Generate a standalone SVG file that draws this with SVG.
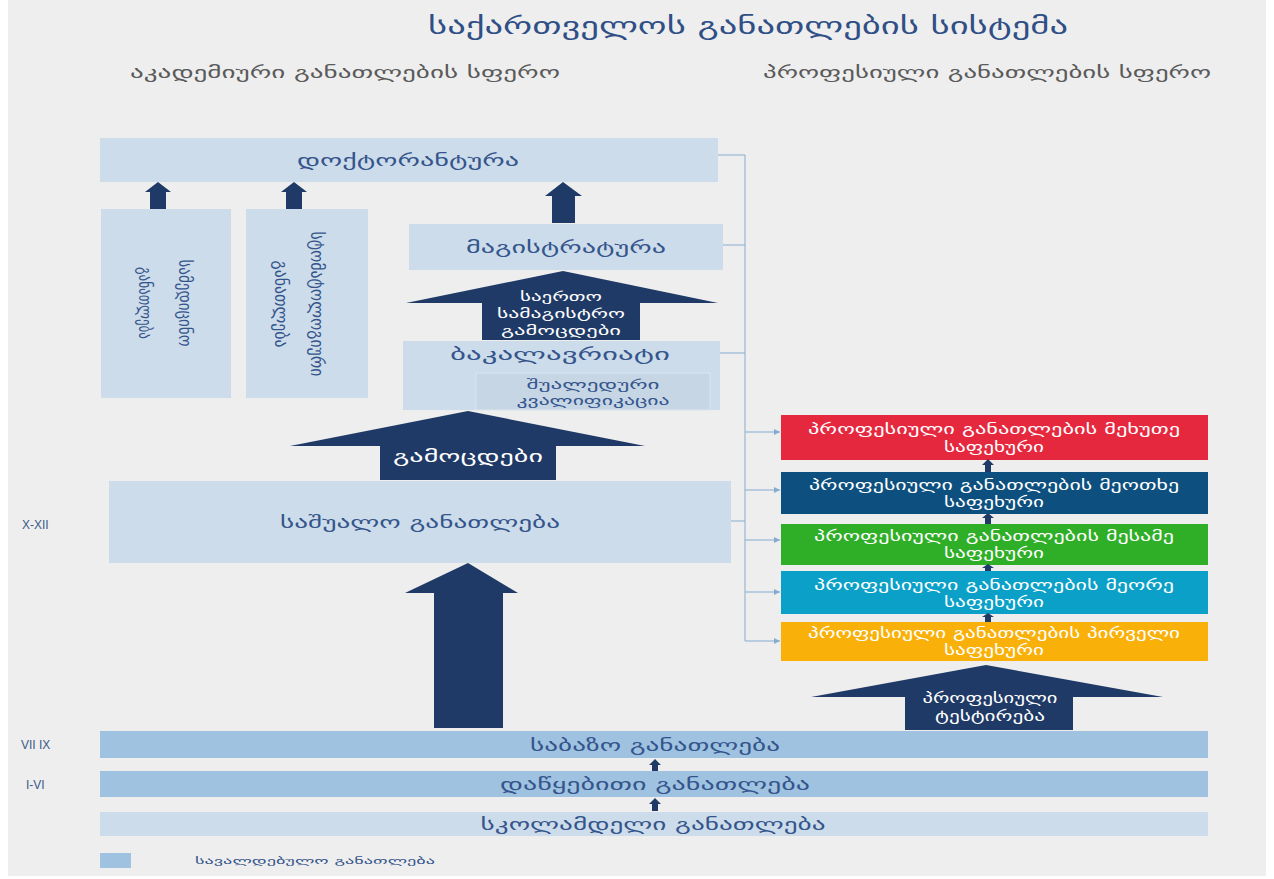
<svg xmlns="http://www.w3.org/2000/svg" width="1274" height="879" viewBox="0 0 1274 879">
<style>
.bg{fill:#eeeeee}
.lb{fill:#cddcea}
.mb{fill:#9fc2e0}
.nv{fill:#1f3a66}
.t{font-family:"DejaVu Sans","Noto Sans",sans-serif;fill:#34558c;text-anchor:middle}
.w{font-family:"DejaVu Sans","Noto Sans",sans-serif;fill:#ffffff;text-anchor:middle}
.g{font-family:"DejaVu Sans","Noto Sans",sans-serif;fill:#5a5a5a;text-anchor:middle}
.lab{font-family:"Liberation Sans",Arial,sans-serif;fill:#3d5a8a;font-size:12px}
.con{stroke:#86abd0;stroke-width:1;fill:none}
</style>
<defs>
<marker id="ah" viewBox="0 0 8 8" refX="8" refY="4" markerWidth="6" markerHeight="6" orient="auto"><path d="M0,0 L8,4 L0,8 z" fill="#86abd0"/></marker>
</defs>
<rect x="0" y="0" width="1274" height="879" fill="#ffffff"/>
<rect class="bg" x="8" y="0" width="1258" height="876"/>

<g id="title">
<text class="t" x="748" y="34" font-size="24" textLength="640" lengthAdjust="spacingAndGlyphs" style="fill:#2f4f86">საქართველოს განათლების სისტემა</text>
<text class="g" x="345" y="78" font-size="16" textLength="430" lengthAdjust="spacingAndGlyphs">აკადემიური განათლების სფერო</text>
<text class="g" x="987" y="78" font-size="16" textLength="448" lengthAdjust="spacingAndGlyphs">პროფესიული განათლების სფერო</text>
</g>

<g id="connectors">
<path class="con" d="M745,155 V641 M718,155 H745 M723,245 H745 M720,353 H745 M731,521 H745"/>
<path class="con" d="M745,432 H780" marker-end="url(#ah)"/>
<path class="con" d="M745,490 H780" marker-end="url(#ah)"/>
<path class="con" d="M745,540 H780" marker-end="url(#ah)"/>
<path class="con" d="M745,592 H780" marker-end="url(#ah)"/>
<path class="con" d="M745,641 H780" marker-end="url(#ah)"/>
</g>

<g id="doctorate">
<rect class="lb" x="100" y="138" width="618" height="44"/>
<text class="t" x="408" y="166" font-size="17" textLength="222" lengthAdjust="spacingAndGlyphs">დოქტორანტურა</text>
</g>

<g id="arrows-small">
<polygon class="nv" points="158,182 171,192 166,192 166,209 150,209 150,192 145,192"/>
<polygon class="nv" points="294,182 307,192 302,192 302,209 286,209 286,192 281,192"/>
<polygon class="nv" points="563,182 582,196 575,196 575,223 552,223 552,196 545,196"/>
</g>

<g id="medical">
<rect class="lb" x="101" y="209" width="130" height="189"/>
<text class="t" font-size="18" x="0" y="0" transform="translate(179,303) rotate(90)" textLength="87" lengthAdjust="spacingAndGlyphs">სამედიცინო</text>
<text class="t" font-size="18" x="0" y="0" transform="translate(139,303) rotate(90)" textLength="72" lengthAdjust="spacingAndGlyphs">განათლება</text>
</g>

<g id="dental">
<rect class="lb" x="246" y="209" width="122" height="189"/>
<text class="t" font-size="18" x="0" y="0" transform="translate(311,304) rotate(90)" textLength="145" lengthAdjust="spacingAndGlyphs">სტომატოლოგიური</text>
<text class="t" font-size="18" x="0" y="0" transform="translate(275,304) rotate(90)" textLength="87" lengthAdjust="spacingAndGlyphs">განათლება</text>
</g>

<g id="masters">
<rect class="lb" x="409" y="224" width="314" height="46"/>
<text class="t" x="566" y="253" font-size="17" textLength="200" lengthAdjust="spacingAndGlyphs">მაგისტრატურა</text>
</g>

<g id="arrow-masters-exam">
<polygon class="nv" points="563,271 718,303 640,303 640,340 482,340 482,303 406,303"/>
<text class="w" font-size="13"><tspan x="561" y="301" textLength="82" lengthAdjust="spacingAndGlyphs">საერთო</tspan><tspan x="561" y="318" textLength="128" lengthAdjust="spacingAndGlyphs">სამაგისტრო</tspan><tspan x="561" y="335" textLength="120" lengthAdjust="spacingAndGlyphs">გამოცდები</tspan></text>
</g>

<g id="bachelor">
<rect class="lb" x="403" y="341" width="317" height="69"/>
<text class="t" x="560" y="360" font-size="17" textLength="220" lengthAdjust="spacingAndGlyphs">ბაკალავრიატი</text>
</g>

<g id="intermediate">
<rect x="476" y="373" width="234" height="37" fill="#c6d6e5" stroke="#dbe6f0" stroke-width="1"/>
<text class="t" font-size="13"><tspan x="593" y="389" textLength="133" lengthAdjust="spacingAndGlyphs">შუალედური</tspan><tspan x="593" y="405" textLength="153" lengthAdjust="spacingAndGlyphs">კვალიფიკაცია</tspan></text>
</g>

<g id="arrow-exams">
<polygon class="nv" points="468,411 645,446 556,446 556,480 380,480 380,446 290,446"/>
<text class="w" x="468" y="462" font-size="16" textLength="150" lengthAdjust="spacingAndGlyphs">გამოცდები</text>
</g>

<g id="secondary">
<rect class="lb" x="109" y="481" width="622" height="82"/>
<text class="t" x="420" y="528" font-size="17" textLength="280" lengthAdjust="spacingAndGlyphs">საშუალო განათლება</text>
<text class="lab" x="22" y="529">X-XII</text>
</g>

<g id="arrow-secondary">
<polygon class="nv" points="468,563 518,593 503,593 503,728 434,728 434,593 405,593"/>
</g>

<g id="voc5">
<rect x="781" y="415" width="427" height="45" fill="#e6283f"/>
<text class="w" font-size="14"><tspan x="994" y="434" textLength="372" lengthAdjust="spacingAndGlyphs">პროფესიული განათლების მეხუთე</tspan><tspan x="994" y="452" textLength="100" lengthAdjust="spacingAndGlyphs">საფეხური</tspan></text>
</g>
<g id="voc4">
<rect x="781" y="472" width="427" height="42" fill="#0d4f7e"/>
<text class="w" font-size="14"><tspan x="994" y="490" textLength="370" lengthAdjust="spacingAndGlyphs">პროფესიული განათლების მეოთხე</tspan><tspan x="994" y="507" textLength="100" lengthAdjust="spacingAndGlyphs">საფეხური</tspan></text>
</g>
<g id="voc3">
<rect x="781" y="524" width="427" height="41" fill="#2fae27"/>
<text class="w" font-size="14"><tspan x="994" y="541" textLength="360" lengthAdjust="spacingAndGlyphs">პროფესიული განათლების მესამე</tspan><tspan x="994" y="558" textLength="100" lengthAdjust="spacingAndGlyphs">საფეხური</tspan></text>
</g>
<g id="voc2">
<rect x="781" y="571" width="427" height="43" fill="#0aa0c8"/>
<text class="w" font-size="14"><tspan x="994" y="590" textLength="360" lengthAdjust="spacingAndGlyphs">პროფესიული განათლების მეორე</tspan><tspan x="994" y="607" textLength="100" lengthAdjust="spacingAndGlyphs">საფეხური</tspan></text>
</g>
<g id="voc1">
<rect x="781" y="622" width="427" height="39" fill="#f9b10a"/>
<text class="w" font-size="14"><tspan x="994" y="638" textLength="372" lengthAdjust="spacingAndGlyphs">პროფესიული განათლების  პირველი</tspan><tspan x="994" y="655" textLength="100" lengthAdjust="spacingAndGlyphs">საფეხური</tspan></text>
</g>

<g id="arrows-voc">
<polygon class="nv" points="988,459 994,465 991,465 991,472 985,472 985,465 982,465"/>
<polygon class="nv" points="988,513 994,518 991,518 991,524 985,524 985,518 982,518"/>
<polygon class="nv" points="988,564 994,568 991,568 991,571 985,571 985,568 982,568"/>
<polygon class="nv" points="988,613 994,617 991,617 991,622 985,622 985,617 982,617"/>
</g>

<g id="arrow-testing">
<polygon class="nv" points="986,665 1163,697 1073,697 1073,730 905,730 905,697 811,697"/>
<text class="w" font-size="14"><tspan x="990" y="703" textLength="135" lengthAdjust="spacingAndGlyphs">პროფესიული</tspan><tspan x="990" y="721" textLength="110" lengthAdjust="spacingAndGlyphs">ტესტირება</tspan></text>
</g>

<g id="basic">
<rect class="mb" x="100" y="731" width="1108" height="27"/>
<text class="t" x="655" y="751" font-size="16" textLength="250" lengthAdjust="spacingAndGlyphs">საბაზო განათლება</text>
<text class="lab" x="21" y="749" font-size="11">VII IX</text>
</g>

<g id="primary">
<rect class="mb" x="100" y="771" width="1108" height="26"/>
<text class="t" x="655" y="790" font-size="16" textLength="310" lengthAdjust="spacingAndGlyphs">დაწყებითი განათლება</text>
<text class="lab" x="26" y="789">I-VI</text>
</g>

<g id="preschool">
<rect class="lb" x="100" y="812" width="1108" height="24"/>
<text class="t" x="653" y="830" font-size="16" textLength="345" lengthAdjust="spacingAndGlyphs">სკოლამდელი განათლება</text>
</g>

<g id="arrows-school">
<polygon class="nv" points="655,759 661,765 658,765 658,771 652,771 652,765 649,765"/>
<polygon class="nv" points="655,798 661,804 658,804 658,811 652,811 652,804 649,804"/>
</g>

<g id="legend">
<rect class="mb" x="100" y="853" width="31" height="15"/>
<text class="t" x="195" y="864" font-size="9" style="text-anchor:start" textLength="240" lengthAdjust="spacingAndGlyphs">სავალდებულო განათლება</text>
</g>
</svg>
